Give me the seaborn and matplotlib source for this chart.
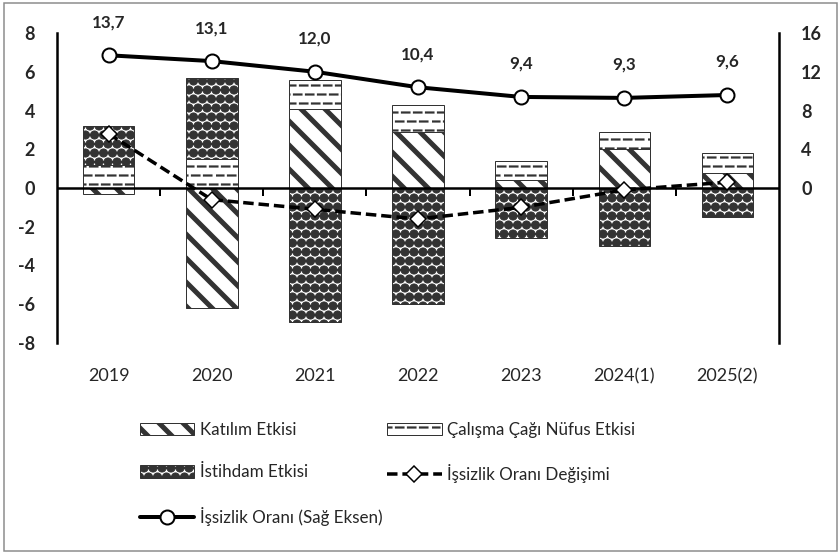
import numpy as np
import pandas as pd
import matplotlib
matplotlib.use("Agg")
import matplotlib.pyplot as plt
import matplotlib.hatch as mhatch
from matplotlib.patches import Rectangle
from matplotlib.path import Path
import seaborn as sns

# data
years = ["2019", "2020", "2021", "2022", "2023", "2024(1)", "2025(2)"]
katilim = [-0.3, -6.2, 4.1, 2.9, 0.4, 2.0, 0.8]
calisma = [1.2, 1.5, 1.5, 1.4, 1.0, 0.9, 1.0]
istihdam = [2.0, 4.2, -6.9, -6.0, -2.6, -3.0, -1.5]
degisim = [2.8, -0.6, -1.1, -1.6, -1.0, -0.1, 0.3]
oran = [13.7, 13.1, 12.0, 10.4, 9.4, 9.3, 9.6]
oran_labels = ["13,7", "13,1", "12,0", "10,4", "9,4", "9,3", "9,6"]


# dashed horizontal hatch (replaces the solid '-' hatch)
class DashHatch(mhatch.HatchPatternBase):
    n_dash = 6

    def __init__(self, hatch, density):
        self.num_lines = int(hatch.count('-') * density * 4 / 3)
        self.num_vertices = self.num_lines * (self.n_dash + 1) * 2

    def set_vertices_and_codes(self, vertices, codes):
        step = 1.0 / self.n_dash
        dash = step * 0.62
        k = 0
        for i in range(self.num_lines):
            y = (i + 0.5) / self.num_lines
            shift = 0 if i % 2 == 0 else step / 2
            for j in range(-1, self.n_dash):
                x0 = j * step + shift
                x1 = x0 + dash
                x0, x1 = max(x0, 0.0), min(max(x1, 0.0), 1.0)
                vertices[k] = (x0, y)
                vertices[k + 1] = (x1, y)
                codes[k] = Path.MOVETO
                codes[k + 1] = Path.LINETO
                k += 2


# filled dots hatch (replaces the '*' star hatch)
class DotHatch(mhatch.Circles):
    size = 0.45
    filled = True

    def __init__(self, hatch, density):
        self.num_rows = int(hatch.count('*') * density * 4 / 3)
        super().__init__(hatch, density)


mhatch._hatch_types = [
    DotHatch if t is mhatch.Stars else DashHatch if t is mhatch.HorizontalHatch else t
    for t in mhatch._hatch_types
]

sns.set_style("white")
plt.rcParams['font.family'] = ['Lato', 'DejaVu Sans']

df = pd.DataFrame({"year": years, "katilim": katilim, "calisma": calisma, "istihdam": istihdam})

# stacked bottoms, positives up and negatives down
pos = np.zeros(len(years))
neg = np.zeros(len(years))
bottoms = {}
for col in ["katilim", "calisma", "istihdam"]:
    v = df[col].to_numpy()
    bottoms[col] = np.where(v >= 0, pos, neg)
    pos = pos + np.where(v >= 0, v, 0)
    neg = neg + np.where(v < 0, v, 0)

fig = plt.figure(figsize=(839 / 72, 553 / 72), dpi=72)
ax = fig.add_axes([57 / 839, 1 - 343 / 553, 722 / 839, 310 / 553])

styles = {
    "katilim": ("\\", 5.0, "Katılım Etkisi"),
    "calisma": ("-", 2.2, "Çalışma Çağı Nüfus Etkisi"),
    "istihdam": ("*", 1.0, "İstihdam Etkisi"),
}
bars = {}
for col, (h, hlw, lab) in styles.items():
    plt.rcParams['hatch.linewidth'] = hlw
    n_before = len(ax.containers)
    sns.barplot(data=df, x="year", y=col, bottom=bottoms[col], ax=ax, color="white",
                edgecolor="#333333", linewidth=1.0, hatch=h, width=0.5,
                errorbar=None, saturation=1, zorder=2)
    bars[col] = ax.containers[n_before]

x = np.arange(len(years))

# zero line with category-boundary ticks pointing down
ax.axhline(0, color="black", linewidth=2.5, zorder=3)
ax.vlines(x[:-1] + 0.5, -0.4, 0, color="black", linewidth=2, zorder=3)

sns.lineplot(x=x, y=degisim, ax=ax, color="black", linewidth=3.5, marker="D",
             markersize=12, markerfacecolor="white", markeredgecolor="black",
             markeredgewidth=1.5, zorder=4)
ax.lines[-1].set_linestyle((0, (3, 1.4)))
line_deg = ax.lines[-1]

ax.set_ylim(-8, 8)
ax.set_xlim(-0.5, len(years) - 0.5)
ax.set_yticks(range(-8, 9, 2))
ax.set_yticklabels([str(v) for v in range(-8, 9, 2)], fontsize=18, fontweight="bold")
ax.set_xlabel("")
ax.set_ylabel("")
ax.tick_params(axis="y", length=0, pad=22)
ax.tick_params(axis="x", length=0, pad=25, labelsize=18)
for s in ["top", "bottom", "right"]:
    ax.spines[s].set_visible(False)
ax.spines["left"].set_linewidth(2.5)
ax.spines["left"].set_color("black")

ax2 = ax.twinx()
sns.lineplot(x=x, y=oran, ax=ax2, color="black", linewidth=4, marker="o",
             markersize=14, markerfacecolor="white", markeredgecolor="black",
             markeredgewidth=2)
line_oran = ax2.lines[-1]
ax2.set_ylim(-16, 16)
ax2.set_yticks([0, 4, 8, 12, 16])
ax2.set_yticklabels(["0", "4", "8", "12", "16"], fontsize=18, fontweight="bold")
ax2.tick_params(axis="y", length=0, pad=22)
for s in ["top", "bottom", "left"]:
    ax2.spines[s].set_visible(False)
ax2.spines["right"].set_linewidth(2.5)
ax2.spines["right"].set_color("black")
ax2.set_ylabel("")
for xi, yi, t in zip(x, oran, oran_labels):
    ax2.annotate(t, (xi, yi), xytext=(0, 33), textcoords="offset points",
                 ha="center", va="center", fontsize=17, fontweight="bold")

handles = [bars["katilim"], bars["istihdam"], line_oran, bars["calisma"], line_deg]
labels = [styles["katilim"][2], styles["istihdam"][2], "İşsizlik Oranı (Sağ Eksen)",
          styles["calisma"][2], "İşsizlik Oranı Değişimi"]
hatch_lw = [styles["katilim"][1], styles["istihdam"][1], None, styles["calisma"][1], None]
leg = fig.legend(handles, labels, loc="upper left", bbox_to_anchor=(140 / 839, 1 - 422 / 553),
                 ncol=2, frameon=False, fontsize=17, handlelength=3.2, handleheight=0.75,
                 handletextpad=0.3, columnspacing=0.3, labelspacing=1.55, borderpad=0,
                 borderaxespad=0)
for hnd, lw in zip(leg.legend_handles, hatch_lw):
    if lw is not None:
        if hasattr(hnd, "set_hatch_linewidth"):
            hnd.set_hatch_linewidth(lw)
        else:
            hnd._hatch_linewidth = lw

fig.patches.append(Rectangle((4 / 839, 2 / 553), 833 / 839, 548 / 553, transform=fig.transFigure,
                             fill=False, edgecolor="#8a8a8a", linewidth=1.5))

fig.savefig("out.png", dpi=72)
